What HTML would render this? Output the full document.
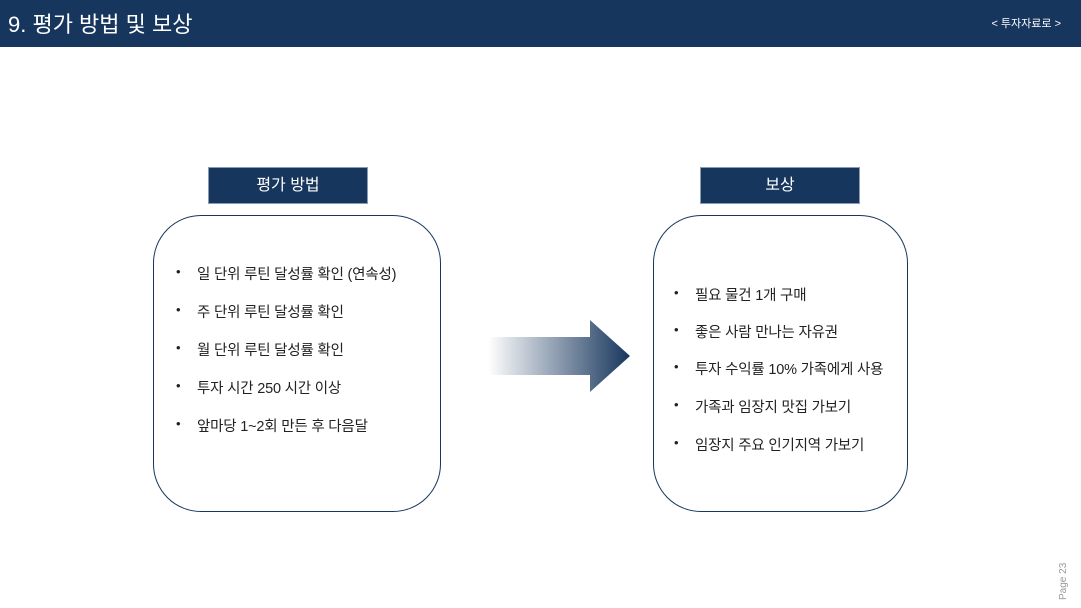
<!DOCTYPE html>
<html><head><meta charset="utf-8"><style>
body{margin:0;width:1081px;height:608px;background:#fff;position:relative;overflow:hidden;font-family:"Liberation Sans","Noto Sans CJK KR",sans-serif;}
.hdr{position:absolute;left:0;top:0;width:1081px;height:47px;background:#17365d;}
.t{position:absolute;left:8px;top:7px;color:#fff;font-size:22px;}
.r{position:absolute;right:20px;top:15px;color:#fff;font-size:11px;}
.lab{position:absolute;height:35px;background:#17365d;border:1px solid #8a9ab0;color:#fff;font-size:16px;text-align:center;line-height:35px;}
.box{position:absolute;border:1.5px solid #17365d;border-radius:48px;}
.it{position:absolute;font-size:14.5px;color:#222;white-space:nowrap;letter-spacing:-0.2px;}
.it:before{content:"•";position:absolute;left:-21px;font-size:13px;top:1px;}
.pg{position:absolute;left:1058px;top:600px;transform:rotate(-90deg);transform-origin:0 0;font-size:10px;color:#999;white-space:nowrap;}
</style></head><body>
<div class="hdr"><div class="t">9. 평가 방법 및 보상</div><div class="r">&lt; 투자자료로 &gt;</div></div>
<div class="lab" style="left:208px;top:167px;width:158px">평가 방법</div>
<div class="lab" style="left:700px;top:167px;width:158px">보상</div>
<div class="box" style="left:153px;top:215px;width:286px;height:295px"></div>
<div class="box" style="left:653px;top:215px;width:253px;height:295px"></div>
<div class="it" style="left:197px;top:263px">일 단위 루틴 달성률 확인 (연속성)</div>
<div class="it" style="left:197px;top:301px">주 단위 루틴 달성률 확인</div>
<div class="it" style="left:197px;top:339px">월 단위 루틴 달성률 확인</div>
<div class="it" style="left:197px;top:377px">투자 시간 250 시간 이상</div>
<div class="it" style="left:197px;top:415px">앞마당 1~2회 만든 후 다음달</div>
<div class="it" style="left:695px;top:284px">필요 물건 1개 구매</div>
<div class="it" style="left:695px;top:321px">좋은 사람 만나는 자유권</div>
<div class="it" style="left:695px;top:358px">투자 수익률 10% 가족에게 사용</div>
<div class="it" style="left:695px;top:396px">가족과 임장지 맛집 가보기</div>
<div class="it" style="left:695px;top:434px">임장지 주요 인기지역 가보기</div>
<svg style="position:absolute;left:0;top:0" width="1081" height="608">
<defs><linearGradient id="g" x1="488" x2="630" gradientUnits="userSpaceOnUse"><stop offset="0" stop-color="#fff"/><stop offset="1" stop-color="#17365d"/></linearGradient></defs>
<polygon points="488,337 590,337 590,320 630,356 590,392 590,375 488,375" fill="url(#g)"/>
</svg>
<div class="pg">Page 23</div>
</body></html>
